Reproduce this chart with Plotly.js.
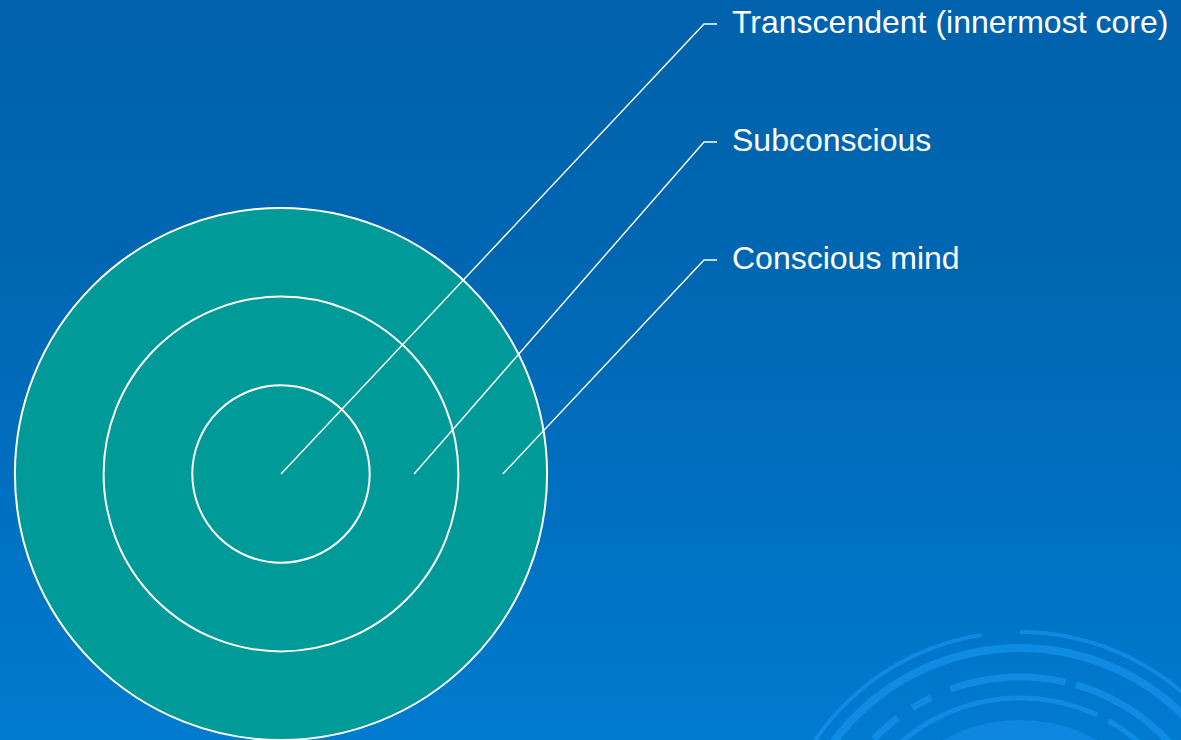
<!DOCTYPE html>
<html>
<head>
<meta charset="utf-8">
<script src="https://cdn.plot.ly/plotly-3.0.1.min.js"></script>
<style>
  html, body { margin: 0; padding: 0; width: 1181px; height: 740px; overflow: hidden; }
  body { background: linear-gradient(180deg, #0062AC 0%, #0066B1 35%, #006FBF 65%, #007BD0 100%); }
  #chart { width: 1181px; height: 740px; }
</style>
</head>
<body>
<div id="chart"></div>
<script>
// ---- data ----
const layers = ["Transcendent (innermost core)", "Subconscious", "Conscious mind"];
const levels = [1, 2, 3];           // ring index from the centre outward

// ---- layout helpers (pixel scale of one ring) ----
const W = 1181, H = 740;
const U = 88.7;                      // px per ring unit
const CX = 281, CY = 474;            // centre in pixels
const xr = [-CX / U, (W - CX) / U];
const yr = [-(H - CY) / U, CY / U];
const px = (x) => (x - CX) / U;      // pixel -> data
const py = (y) => (CY - y) / U;

const shapes = [];

// decorative ripple arcs (background ornament)
function arcPath(cx, cy, r, a0, a1) {
  let d = "";
  const n = 60;
  for (let i = 0; i <= n; i++) {
    const a = (a0 + (a1 - a0) * i / n) * Math.PI / 180;
    const x = px(cx + r * Math.cos(a)), y = py(cy - r * Math.sin(a));
    d += (i === 0 ? "M" : "L") + x.toFixed(4) + "," + y.toFixed(4);
  }
  return d;
}
const deco = [
  // cx, cy, r, a0, a1, width
  [1020, 880, 248, 150, 99, 4],
  [1020, 880, 248, 90, 25, 4],
  [1020, 880, 232, 150, 20, 8],
  [1020, 880, 203, 136, 127, 7],
  [1020, 880, 203, 122, 116, 7],
  [1020, 880, 203, 110, 77, 7],
  [1020, 880, 203, 74, 35, 7],
  [1020, 880, 182, 132, 65, 5],
  [1020, 880, 182, 61, 35, 5],
  [285, 940, 208, 128, 116, 4],
  [285, 940, 205, 64, 50, 4]
];
deco.forEach(([cx, cy, r, a0, a1, w]) => {
  shapes.push({type: "path", xref: "x", yref: "y", layer: "below",
    path: arcPath(cx, cy, r, a0, a1),
    line: {color: "rgba(20,145,235,0.75)", width: w}});
});
// soft inner disc of the ripple
shapes.push({type: "circle", xref: "x", yref: "y", layer: "below",
  x0: px(1020 - 160), x1: px(1020 + 160), y0: py(880 + 160), y1: py(880 - 160),
  fillcolor: "rgba(20,145,235,0.55)", line: {width: 0}});

// concentric rings, outermost first
[...levels].sort((a, b) => b - a).forEach(lv => {
  shapes.push({type: "circle", xref: "x", yref: "y", layer: "below",
    x0: -lv, x1: lv, y0: -lv, y1: lv,
    fillcolor: "#009A98", line: {color: "#FFFFFF", width: 2}});
});

// leader lines and labels
const elbowX = px(704), endX = px(717), textX = px(730);
const labelY0 = py(260), labelStep = 118 / U;
const traces = [];
const annotations = [];
layers.forEach((name, i) => {
  const lv = levels[i];
  const k = levels.length - lv;       // outermost label lowest
  const ly = labelY0 + k * labelStep;
  const ax = lv === 1 ? 0 : lv - 0.5;
  traces.push({type: "scatter", mode: "lines", x: [ax, elbowX, endX], y: [0, ly, ly],
    line: {color: "#FFFFFF", width: 1.4}, hoverinfo: "skip", showlegend: false});
  annotations.push({x: textX, y: ly, xref: "x", yref: "y", text: name, showarrow: false,
    xanchor: "left", yanchor: "middle", yshift: 2,
    font: {family: "Liberation Sans, Arial, sans-serif", size: 32, color: "#FFFFFF"}});
});

const layout = {
  width: W, height: H,
  margin: {l: 0, r: 0, t: 0, b: 0},
  paper_bgcolor: "rgba(0,0,0,0)", plot_bgcolor: "rgba(0,0,0,0)",
  xaxis: {range: xr, visible: false, fixedrange: true},
  yaxis: {range: yr, visible: false, fixedrange: true},
  shapes: shapes, annotations: annotations, showlegend: false
};
Plotly.newPlot("chart", traces, layout, {displayModeBar: false, staticPlot: true});
</script>
</body>
</html>
